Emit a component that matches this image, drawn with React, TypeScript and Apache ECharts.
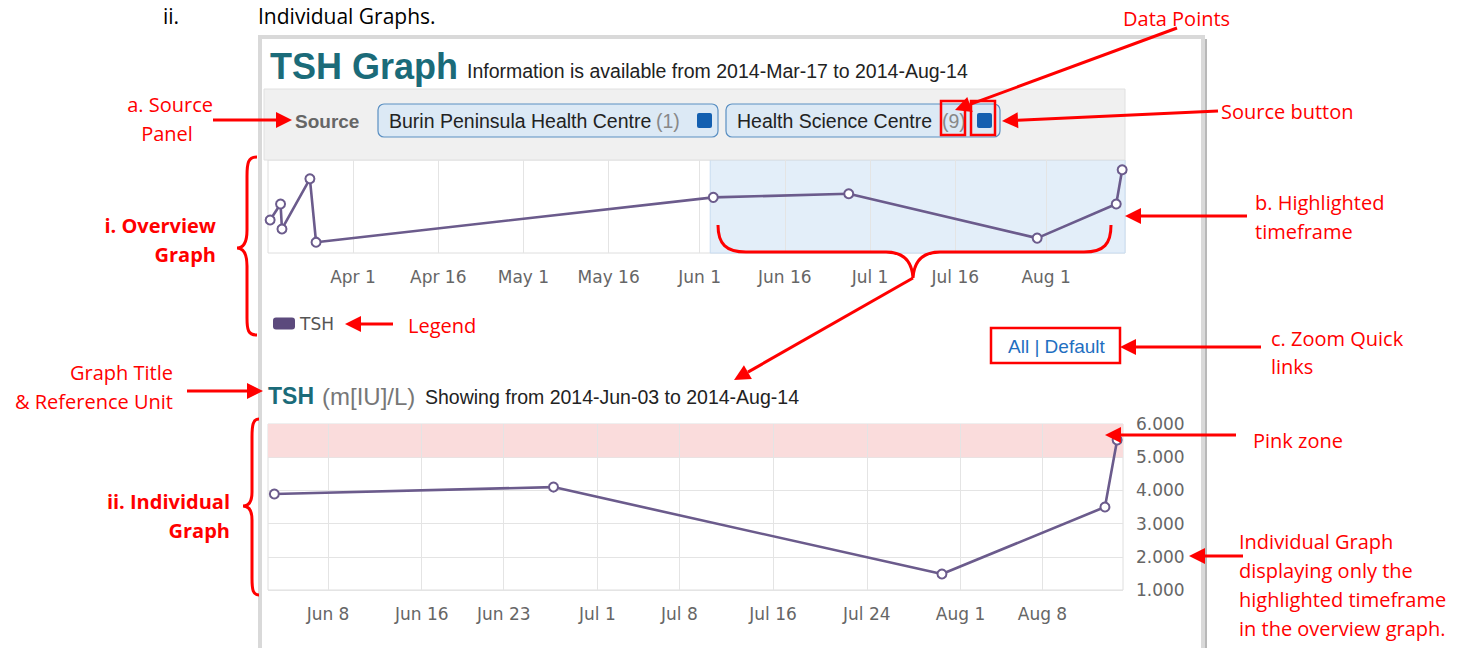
import React, { useEffect, useRef } from "react";
import * as echarts from "echarts";

// ---------- data ----------
const sampleDates = [
  "2014-03-17 10:00",
  "2014-03-19 06:00",
  "2014-03-19 12:00",
  "2014-03-24 10:00",
  "2014-03-25 12:00",
  "2014-06-03 10:00",
  "2014-06-27 06:00",
  "2014-07-30 10:00",
  "2014-08-13 08:00",
  "2014-08-14 09:00",
];
const tshValues = [2.55, 3.5, 2.02, 4.99, 1.24, 3.89, 4.1, 1.48, 3.5, 5.52];

const overviewRange = ["2014-03-17 01:00", "2014-08-14 21:00"];
const detailRange = ["2014-06-02 21:00", "2014-08-14 21:00"];

const overviewTicks = [
  "2014-04-01", "2014-04-16", "2014-05-01", "2014-05-16", "2014-06-01",
  "2014-06-16", "2014-07-01", "2014-07-16", "2014-08-01",
];
const detailTicks = [
  "2014-06-08", "2014-06-16", "2014-06-23", "2014-07-01", "2014-07-08",
  "2014-07-16", "2014-07-24", "2014-08-01", "2014-08-08",
];
const detailYMin = 1;
const detailYMax = 6;
const detailYStep = 1;
const pinkZone = [5, 6];
const overviewYRange = [0.6, 6.1];

const sources = [
  { name: "Burin Peninsula Health Centre", count: 1 },
  { name: "Health Science Centre", count: 9 },
];

// ---------- helpers ----------
const MONTHS = ["Jan", "Feb", "Mar", "Apr", "May", "Jun", "Jul", "Aug", "Sep", "Oct", "Nov", "Dec"];
const t = (s: string) => {
  const [d, h] = s.split(" ");
  const [y, m, dd] = d.split("-").map(Number);
  let hh = 0, mm = 0;
  if (h) { const p = h.split(":").map(Number); hh = p[0]; mm = p[1]; }
  return new Date(y, m - 1, dd, hh, mm).getTime();
};
const fmtDate = (v: number) => {
  const d = new Date(v);
  return MONTHS[d.getMonth()] + " " + d.getDate();
};

const RED = "#ff0000";
const ANN_FONT = "Open Sans";
const UI_FONT = "Liberation Sans";
const AXIS_FONT = "DejaVu Sans";
const LINE_COLOR = "#6b5b8c";

const braceOverview =
  "M 257 157 C 248 157 247 163 247 176 L 247 230 C 247 242 244 248 237 248 C 244 248 247 254 247 266 L 247 318 C 247 330 248 335 257 335";
const braceDetail =
  "M 259 419 C 253 419 252 425 252 437 L 252 492 C 252 501 249 506 243 506 C 249 506 252 511 252 520 L 252 578 C 252 590 253 595 259 595";
const braceUnder =
  "M 718 225 C 718 244 726 252 746 252 L 886 252 C 904 252 912 262 913 278 C 914 262 922 252 940 252 L 1084 252 C 1104 252 1111 244 1111 225";

let registered = false;
function registerShapes() {
  if (registered) return;
  registered = true;
  echarts.graphic.registerShape("braceOverview", echarts.graphic.extendPath(braceOverview, {}));
  echarts.graphic.registerShape("braceDetail", echarts.graphic.extendPath(braceDetail, {}));
  echarts.graphic.registerShape("braceUnder", echarts.graphic.extendPath(braceUnder, {}));
}

function txt(
  x: number, y: number, text: string, size: number, color: string,
  opts: { family?: string; weight?: string; align?: string; z?: number } = {}
) {
  const align = opts.align || "left";
  return {
    type: "text", x, y, z: opts.z ?? 100, silent: true,
    style: {
      text, fill: color, fontSize: size, fontFamily: opts.family || ANN_FONT,
      fontWeight: opts.weight || "normal",
      align, verticalAlign: "middle", textAlign: align, textVerticalAlign: "middle",
    },
  };
}

function arrow(x1: number, y1: number, x2: number, y2: number) {
  const a = Math.atan2(y2 - y1, x2 - x1);
  const L = 16, W = 8;
  const bx = x2 - L * Math.cos(a), by = y2 - L * Math.sin(a);
  const px = -Math.sin(a), py = Math.cos(a);
  return [
    { type: "line", z: 110, silent: true, shape: { x1, y1, x2: bx, y2: by }, style: { stroke: RED, lineWidth: 3 } },
    {
      type: "polygon", z: 110, silent: true,
      shape: { points: [[x2, y2], [bx + W * px, by + W * py], [bx - W * px, by - W * py]] },
      style: { fill: RED },
    },
  ];
}

function redBox(x: number, y: number, w: number, h: number) {
  return { type: "rect", z: 110, silent: true, shape: { x, y, width: w, height: h }, style: { fill: "none", stroke: RED, lineWidth: 2.5 } };
}

export default function App() {
  const ref = useRef<HTMLDivElement>(null);

  useEffect(() => {
    if (!ref.current) return;
    registerShapes();
    const chart = echarts.init(ref.current, null, { renderer: "svg" });

    const allData = sampleDates.map((d, i) => [t(d), tshValues[i]]);
    const dStart = t(detailRange[0]), dEnd = t(detailRange[1]);
    const detailData = allData.filter((p) => p[0] >= dStart && p[0] <= dEnd);

    const mainStyle = {
      type: "line",
      name: "TSH",
      symbol: "circle",
      symbolSize: 9,
      itemStyle: { color: "#ffffff", borderColor: LINE_COLOR, borderWidth: 2 },
      lineStyle: { color: LINE_COLOR, width: 2.6 },
      z: 5,
      silent: true,
    };
    const helper = (data: any[]) => ({
      type: "line",
      name: "helper",
      data,
      showSymbol: false,
      symbol: "none",
      lineStyle: { opacity: 0 },
      silent: true,
    });
    const gridLines = (ticks: string[]) => ({
      silent: true,
      symbol: ["none", "none"],
      label: { show: false },
      lineStyle: { color: "#e4e4e4", width: 1, type: "solid" },
      data: ticks.map((d) => ({ xAxis: t(d) })),
    });

    const axisLabelBase = { color: "#666666", fontSize: 17, fontFamily: AXIS_FONT };

    // ---------- graphics ----------
    const g: any[] = [];
    // frame
    g.push({ type: "line", z: 1, silent: true, shape: { x1: 1205, y1: 39, x2: 1205, y2: 660 }, style: { stroke: "#b8b8b8", lineWidth: 4 } });
    g.push({ type: "rect", z: 1, silent: true, shape: { x: 260, y: 37, width: 943, height: 640 }, style: { fill: "none", stroke: "#d9d9d9", lineWidth: 4 } });
    // top heading
    g.push(txt(163, 16, "ii.", 21, "#000000"));
    g.push(txt(258, 16, "Individual Graphs.", 21, "#000000"));
    // title
    g.push(txt(270, 66, "TSH Graph", 36, "#1b6b79", { family: UI_FONT, weight: "bold" }));
    g.push(txt(467, 71, "Information is available from 2014-Mar-17 to 2014-Aug-14", 19.5, "#222222", { family: UI_FONT }));
    // source panel
    g.push({ type: "rect", z: 2, silent: true, shape: { x: 264, y: 89, width: 861, height: 71 }, style: { fill: "#f0f0f0", stroke: "#e0e0e0", lineWidth: 1 } });
    g.push(txt(295, 121, "Source", 19, "#666666", { family: UI_FONT, weight: "bold" }));
    const btns = [
      { x: 378, w: 340, nameX: 389, countX: 656, sqX: 697 },
      { x: 726, w: 274, nameX: 737, countX: 942, sqX: 977 },
    ];
    sources.forEach((s, i) => {
      const b = btns[i];
      g.push({ type: "rect", z: 3, silent: true, shape: { x: b.x, y: 104, width: b.w, height: 33, r: 6 }, style: { fill: "#dce9f5", stroke: "#5a8fc2", lineWidth: 1.2 } });
      g.push(txt(b.nameX, 121, s.name, 19.5, "#222222", { family: UI_FONT }));
      g.push(txt(b.countX, 121, "(" + s.count + ")", 19.5, "#888888", { family: UI_FONT }));
      g.push({ type: "rect", z: 4, silent: true, shape: { x: b.sqX, y: 113, width: 15, height: 15, r: 2 }, style: { fill: "#135fb0" } });
    });
    // zoom links
    g.push(txt(1008, 346, "All | Default", 19, "#1f6fc1", { family: UI_FONT }));
    // detail title
    g.push(txt(268, 396, "TSH", 23, "#1b6b79", { family: UI_FONT, weight: "bold" }));
    g.push(txt(322, 396, "(m[IU]/L)", 24, "#777777", { family: UI_FONT }));
    g.push(txt(425, 397, "Showing from 2014-Jun-03 to 2014-Aug-14", 19.5, "#222222", { family: UI_FONT }));

    // annotations
    g.push(txt(1123, 18, "Data Points", 20, RED));
    g.push(txt(1221, 111, "Source button", 20, RED));
    g.push(txt(213, 104, "a. Source", 20, RED, { align: "right" }));
    g.push(txt(167, 133, "Panel", 20, RED, { align: "center" }));
    g.push(txt(216, 225, "i. Overview", 20, RED, { align: "right", weight: "bold" }));
    g.push(txt(216, 254, "Graph", 20, RED, { align: "right", weight: "bold" }));
    g.push(txt(408, 325, "Legend", 20, RED));
    g.push(txt(1255, 202, "b. Highlighted", 20, RED));
    g.push(txt(1255, 231, "timeframe", 20, RED));
    g.push(txt(1271, 338, "c. Zoom Quick", 20, RED));
    g.push(txt(1271, 366, "links", 20, RED));
    g.push(txt(173, 372, "Graph Title", 20, RED, { align: "right" }));
    g.push(txt(173, 401, "& Reference Unit", 20, RED, { align: "right" }));
    g.push(txt(230, 501, "ii. Individual", 20, RED, { align: "right", weight: "bold" }));
    g.push(txt(230, 530, "Graph", 20, RED, { align: "right", weight: "bold" }));
    g.push(txt(1253, 440, "Pink zone", 20, RED));
    g.push(txt(1239, 541, "Individual Graph", 20, RED));
    g.push(txt(1239, 570, "displaying only the", 20, RED));
    g.push(txt(1239, 599, "highlighted timeframe", 20, RED));
    g.push(txt(1239, 628, "in the overview graph.", 20, RED));

    g.push(...arrow(213, 120, 292, 120));
    g.push(...arrow(1177, 28, 955, 110));
    g.push(...arrow(1218, 111, 1002, 121));
    g.push(...arrow(393, 324, 345, 324));
    g.push(...arrow(1247, 216, 1125, 216));
    g.push(...arrow(1261, 347, 1120, 347));
    g.push(...arrow(187, 391, 263, 391));
    g.push(...arrow(913, 278, 734, 380));
    g.push(...arrow(1236, 435, 1105, 435));
    g.push(...arrow(1243, 556, 1189, 556));

    g.push(redBox(941, 101, 24, 34));
    g.push(redBox(971, 101, 24, 34));
    g.push(redBox(991, 328, 129, 35));

    const braceStyle = { fill: "none", stroke: RED, lineWidth: 3 };
    g.push({ type: "braceOverview", x: 0, y: 0, z: 110, silent: true, style: braceStyle });
    g.push({ type: "braceDetail", x: 0, y: 0, z: 110, silent: true, style: braceStyle });
    g.push({ type: "braceUnder", x: 0, y: 0, z: 110, silent: true, style: braceStyle });

    const option: any = {
      animation: false,
      backgroundColor: "#ffffff",
      legend: {
        data: ["TSH"],
        left: 273,
        top: 315,
        padding: 0,
        icon: "roundRect",
        itemWidth: 22,
        itemHeight: 12,
        selectedMode: false,
        itemStyle: { color: "#5c4a7d", borderWidth: 0 },
        textStyle: { color: "#555555", fontSize: 17, fontFamily: AXIS_FONT },
      },
      grid: [
        { left: 268, top: 160, width: 857, height: 93, show: true, borderColor: "#dedede", borderWidth: 1, backgroundColor: "transparent" },
        { left: 268, top: 424, width: 855, height: 166, show: true, borderColor: "#dedede", borderWidth: 1, backgroundColor: "transparent" },
      ],
      xAxis: [
        {
          type: "value", gridIndex: 0, min: t(overviewRange[0]), max: t(overviewRange[1]),
          axisLine: { show: false }, axisTick: { show: false }, splitLine: { show: false },
          axisLabel: { ...axisLabelBase, margin: 15, customValues: overviewTicks.map(t), formatter: (v: number) => fmtDate(v), hideOverlap: false },
        },
        {
          type: "value", gridIndex: 1, min: dStart, max: dEnd,
          axisLine: { show: false }, axisTick: { show: false }, splitLine: { show: false },
          axisLabel: { ...axisLabelBase, margin: 15, customValues: detailTicks.map(t), formatter: (v: number) => fmtDate(v), hideOverlap: false },
        },
      ],
      yAxis: [
        { type: "value", gridIndex: 0, min: overviewYRange[0], max: overviewYRange[1], show: false },
        {
          type: "value", gridIndex: 1, position: "right", min: detailYMin, max: detailYMax, interval: detailYStep,
          axisLine: { show: false }, axisTick: { show: false },
          splitLine: { lineStyle: { color: "#e4e4e4", width: 1 } },
          axisLabel: { ...axisLabelBase, margin: 13, formatter: (v: number) => v.toFixed(3) },
        },
      ],
      series: [
        {
          ...helper(allData), xAxisIndex: 0, yAxisIndex: 0, z: 1,
          markArea: {
            silent: true,
            itemStyle: { color: "#e3eef9", borderColor: "#c8dcf0", borderWidth: 1 },
            data: [[{ xAxis: dStart }, { xAxis: dEnd }]],
          },
        },
        { ...helper(allData), xAxisIndex: 0, yAxisIndex: 0, z: 2, markLine: gridLines(overviewTicks) },
        { ...mainStyle, xAxisIndex: 0, yAxisIndex: 0, data: allData },
        {
          ...helper(detailData), xAxisIndex: 1, yAxisIndex: 1, z: 1,
          markArea: {
            silent: true,
            itemStyle: { color: "#fadcdc" },
            data: [[{ yAxis: pinkZone[0] }, { yAxis: pinkZone[1] }]],
          },
        },
        { ...helper(detailData), xAxisIndex: 1, yAxisIndex: 1, z: 2, markLine: gridLines(detailTicks) },
        { ...mainStyle, xAxisIndex: 1, yAxisIndex: 1, data: detailData },
      ],
      graphic: { elements: g },
    };

    chart.setOption(option);
    return () => chart.dispose();
  }, []);

  return (
    <div
      ref={ref}
      style={{ position: "fixed", left: 0, top: 0, width: 1475, height: 648, background: "#fff" }}
    />
  );
}
